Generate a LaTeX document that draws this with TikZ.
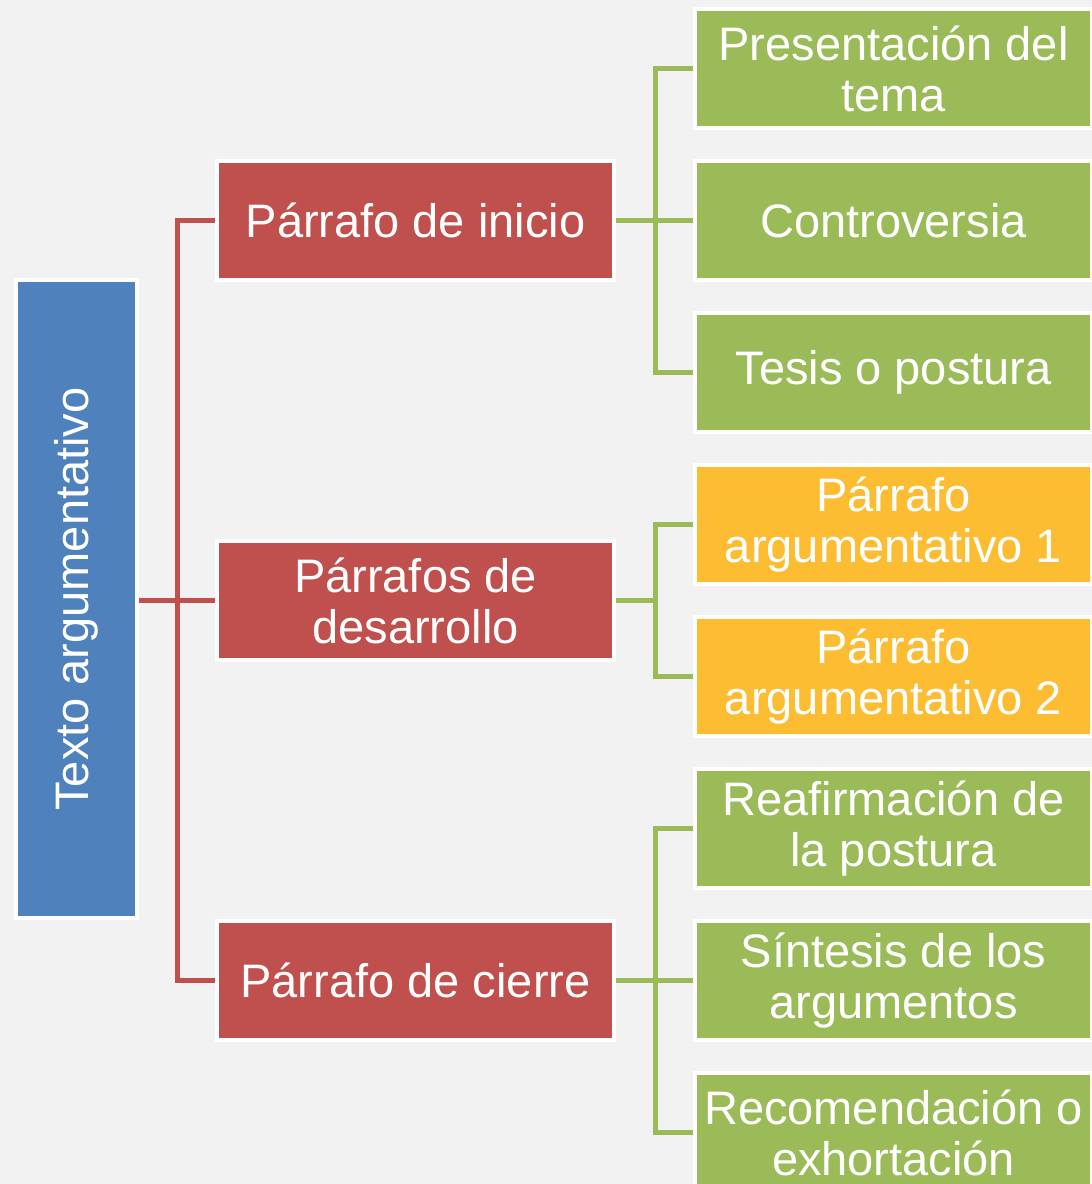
\documentclass[tikz,border=0pt]{standalone}
\usepackage{fontspec}
\setmainfont{Liberation Sans}
\definecolor{bgc}{HTML}{F2F2F2}
\definecolor{bluec}{HTML}{4F81BD}
\definecolor{redc}{HTML}{C0504D}
\definecolor{greenc}{HTML}{9BBB59}
\definecolor{yellowc}{HTML}{FDBD32}
\pgfdeclarelayer{bglayer}
\pgfdeclarelayer{lines}
\pgfsetlayers{bglayer,lines,main}
\tikzset{
  box/.style={draw=white, line width=4pt, text=white, align=center,
    minimum width=397pt, minimum height=119pt, inner sep=0pt,
    font=\fontsize{47}{51}\selectfont},
  redbox/.style={box, fill=redc},
  greenbox/.style={box, fill=greenc},
  yellowbox/.style={box, fill=yellowc},
  bluebox/.style={draw=white, line width=4pt, fill=bluec, minimum width=121pt, minimum height=638pt, inner sep=0pt},
  redline/.style={draw=redc, line width=5pt},
  greenline/.style={draw=greenc, line width=5pt},
}
\begin{document}
\begin{tikzpicture}[x=1pt,y=-1pt]
\begin{pgfonlayer}{bglayer}
\fill[bgc] (0,0) rectangle (1092,1184);
\end{pgfonlayer}
\useasboundingbox (0,0) rectangle (1092,1184);
\clip (0,0) rectangle (1092,1184);

\node[bluebox] (root) at (76,599) {};
\node[rotate=90, text=white, font=\fontsize{47}{51}\selectfont] (rootlabel) at (root.center) {Texto argumentativo};

\node[redbox] (r1) at (415.5,220.5) {Párrafo de inicio};
\node[redbox] (r2) at (415.5,600.5) {Párrafos de\\desarrollo};
\node[redbox] (r3) at (415.5,980.5) {Párrafo de cierre};

\node[greenbox] (g1) at (893.5,68.5) {Presentación del\\tema};
\node[greenbox] (g2) at (893.5,220.5) {Controversia};
\node[greenbox] (g3) at (893.5,372.5) {Tesis o postura};
\node[yellowbox] (y1) at (893.5,524.5) {Párrafo\\argumentativo 1};
\node[yellowbox] (y2) at (893.5,676.5) {Párrafo\\argumentativo 2};
\node[greenbox] (g4) at (893.5,828.5) {Reafirmación de\\la postura};
\node[greenbox] (g5) at (893.5,980.5) {Síntesis de los\\argumentos};
\node[greenbox] (g6) at (893.5,1132.5) {Recomendación o\\exhortación};

\coordinate (rj) at (177,600);
\coordinate (j1) at (655,220.5);
\coordinate (j2) at (655,600.5);
\coordinate (j3) at (655,980.5);

\begin{pgfonlayer}{lines}
\draw[redline] (root.east |- rj) -- (rj);
\draw[redline] (r1.west) -| (rj) |- (r3.west);
\draw[redline] (rj) -- (rj |- r2.west) -- (r2.west);

\draw[greenline] (r1.east) -- (j1);
\draw[greenline] (g1.west) -| (j1) |- (g3.west);
\draw[greenline] (j1) -- (g2.west);

\draw[greenline] (r2.east) -- (j2);
\draw[greenline] (y1.west) -| (j2) |- (y2.west);

\draw[greenline] (r3.east) -- (j3);
\draw[greenline] (g4.west) -| (j3) |- (g6.west);
\draw[greenline] (j3) -- (g5.west);
\end{pgfonlayer}
\end{tikzpicture}
\end{document}
